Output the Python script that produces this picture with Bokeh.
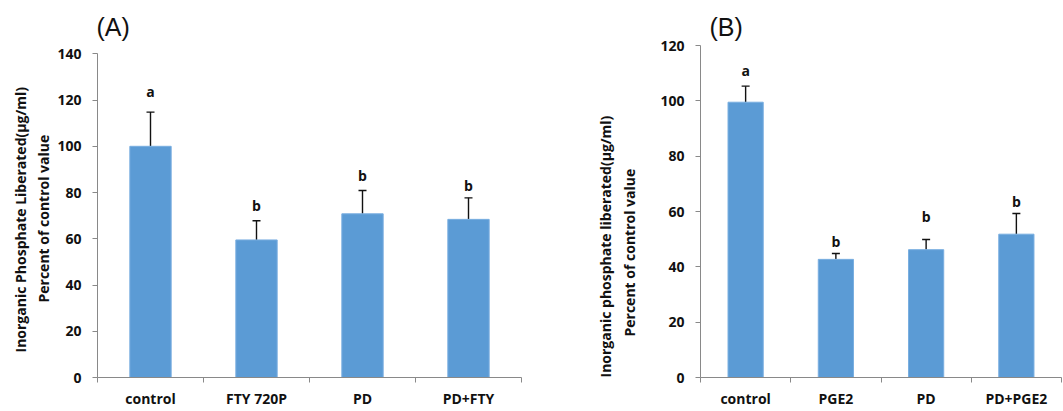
from bokeh.plotting import figure
from bokeh.models import Range1d, FixedTicker, Whisker, TeeHead, ColumnDataSource, Title
from bokeh.layouts import row
from bokeh.core.properties import value
from bokeh.embed import file_html
from bokeh.resources import INLINE

# ---------------- data ----------------
cats_a = ["control", "FTY 720P", "PD", "PD+FTY"]
vals_a = [100.0, 59.5, 70.8, 68.4]
err_a = [114.8, 67.8, 80.9, 77.7]
letters_a = ["a", "b", "b", "b"]
letter_y_a = [123.7, 74.2, 87.2, 83.2]
yticks_a = [0, 20, 40, 60, 80, 100, 120, 140]

cats_b = ["control", "PGE2", "PD", "PD+PGE2"]
vals_b = [99.5, 42.7, 46.2, 51.8]
err_b = [105.3, 44.8, 49.9, 59.3]
letters_b = ["a", "b", "b", "b"]
letter_y_b = [110.9, 49.0, 58.2, 63.5]
yticks_b = [0, 20, 40, 60, 80, 100, 120]

ytitle_a = ["Inorganic Phosphate Liberated(\u03bcg/ml)", "Percent of control value"]
ytitle_b = ["Inorganic phosphate liberated(\u03bcg/ml)", "Percent of control value"]

BAR = "#5B9BD5"
BAR_EDGE = "#79AEE0"
AXIS = "#898989"
TXT = "#111111"
FONT = "Open Sans"

H = 410
TOP = 45
BOTTOM = 30
FRAME_H = H - TOP - BOTTOM


def panel(cats, vals, errs, letters, letter_y, yticks, ymax, yrange_end, tag, tag_off,
          title_lines, title_offsets, title_standoffs, extra_gap, width, mbl, mbr):
    n = len(cats)
    centers = [i + 0.5 for i in range(n)]
    src = ColumnDataSource(dict(x=centers, top=vals, hi=errs, cat=cats,
                                letter=letters, ly=letter_y))
    p = figure(width=width, height=H, output_backend="svg", toolbar_location=None,
               x_range=Range1d(0, n), y_range=Range1d(0, yrange_end),
               min_border_left=mbl, min_border_right=mbr, min_border_top=TOP,
               min_border_bottom=BOTTOM)
    p.outline_line_color = None
    p.xgrid.visible = False
    p.ygrid.visible = False
    p.background_fill_color = "white"
    p.border_fill_color = "white"

    p.title.text = tag
    p.title.text_font = "Liberation Sans"
    p.title.text_font_size = "25px"
    p.title.text_font_style = "normal"
    p.title.text_color = "#111111"
    p.title.align = "left"
    p.title.offset = tag_off
    p.title.standoff = 10

    p.vbar(x="x", top="top", width=0.39, bottom=0, source=src,
           fill_color=BAR, line_color=BAR_EDGE, line_width=1)

    wk = Whisker(base="x", lower="top", upper="hi", source=src,
                 line_color="#111111", line_width=1.4,
                 upper_head=TeeHead(size=8, line_color="#111111", line_width=1.4),
                 lower_head=None)
    p.add_layout(wk)

    p.text(x="x", y="ly", text="letter", source=src, text_font=value(FONT),
           text_font_style="bold", text_font_size="14px", text_color=TXT,
           text_align="center", text_baseline="middle")

    # x axis
    xa = p.xaxis[0]
    xa.ticker = FixedTicker(ticks=centers, minor_ticks=list(range(n + 1)))
    xa.major_label_overrides = {c: lab for c, lab in zip(centers, cats)}
    xa.major_tick_line_color = None
    xa.major_tick_out = 0
    xa.major_tick_in = 0
    xa.minor_tick_line_color = AXIS
    xa.minor_tick_out = 5
    xa.minor_tick_in = 0
    xa.axis_line_color = AXIS
    xa.major_label_text_font = FONT
    xa.major_label_text_font_style = "bold"
    xa.major_label_text_font_size = "14px"
    xa.major_label_text_color = TXT
    xa.major_label_standoff = 6
    xa.axis_label = None
    xa.axis_label_standoff = 0

    # y axis
    ya = p.yaxis[0]
    ya.ticker = FixedTicker(ticks=yticks)
    ya.bounds = (0, ymax)
    ya.minor_tick_line_color = None
    ya.major_tick_line_color = AXIS
    ya.major_tick_out = 5
    ya.major_tick_in = 0
    ya.axis_line_color = AXIS
    ya.major_label_text_font = FONT
    ya.major_label_text_font_style = "bold"
    ya.major_label_text_font_size = "14px"
    ya.major_label_text_color = TXT
    ya.major_label_standoff = 11
    if extra_gap:
        ya.axis_label = " "
        ya.axis_label_text_font_size = "10px"
        ya.axis_label_standoff = extra_gap
    else:
        ya.axis_label = None
        ya.axis_label_standoff = 0

    # y titles (line 2 nearest to the axis)
    for i in (1, 0):
        t = Title(text=title_lines[i], align="left", offset=title_offsets[i],
                  standoff=title_standoffs[i], text_font=FONT, text_font_style="bold",
                  text_font_size="14px", text_color=TXT)
        p.add_layout(t, "left")
    return p


pA = panel(cats_a, vals_a, err_a, letters_a, letter_y_a, yticks_a, 140,
           140 * FRAME_H / (FRAME_H - 8.4),
           "(A)", -1, ytitle_a, [25, 75], [2, 3], 0,
           width=525, mbl=97, mbr=4)
pB = panel(cats_b, vals_b, err_b, letters_b, letter_y_b, yticks_b, 120, 120,
           "(B)", 9, ytitle_b, [0, 41], [2, 5], 2,
           width=537, mbl=175, mbr=1)

layout = row(pA, pB)
open("out.html", "w").write(file_html(layout, INLINE))
